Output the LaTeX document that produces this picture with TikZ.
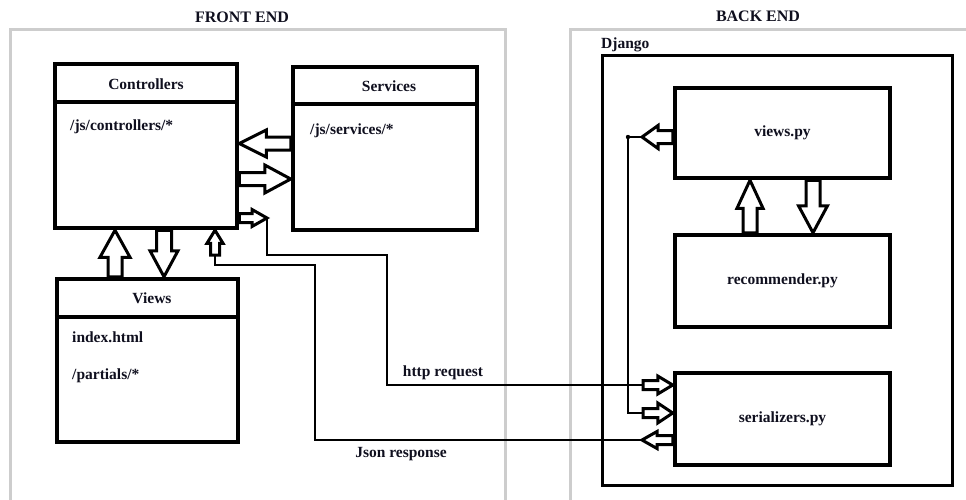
\documentclass[tikz,border=0pt]{standalone}
\usepackage{fontspec}
\setmainfont{Liberation Serif}
\usetikzlibrary{calc}
\definecolor{framegray}{RGB}{205,205,205}
\definecolor{ink}{RGB}{15,15,30}
\tikzset{
  frame/.style={draw=framegray, line width=3pt, inner sep=0pt},
  bigbox/.style={draw, line width=4.5pt, inner sep=0pt},
  djbox/.style={draw, line width=3pt, inner sep=0pt},
  divider/.style={line width=4.5pt},
  conn/.style={line width=2.5pt, line join=miter},
  barrow/.style={draw, fill=white, line width=3pt, line join=miter},
  lbl/.style={inner sep=0pt, text=ink},
  title/.style={inner sep=0pt, text=ink, font=\bfseries\fontsize{16}{19}\selectfont},
}
\newcommand\blockarrow[5]{%
  \path let \p1=(#1), \p2=(#2) in \pgfextra{%
    \pgfmathsetmacro\baang{atan2(\y2-\y1,\x2-\x1)}%
    \pgfmathsetmacro\balen{veclen(\x2-\x1,\y2-\y1)}%
    \global\let\baangg\baang \global\let\baleng\balen
    \xdef\bax{\x1}\xdef\bay{\y1}};
  \draw[barrow, shift={(\bax,\bay)}, rotate=\baangg]
    (0pt,{-#3*1pt}) -- ({(\baleng-#5)*1pt},{-#3*1pt}) -- ({(\baleng-#5)*1pt},{-#4*1pt})
    -- ({\baleng*1pt},0pt) -- ({(\baleng-#5)*1pt},{#4*1pt}) -- ({(\baleng-#5)*1pt},{#3*1pt})
    -- (0pt,{#3*1pt}) -- cycle;}
\begin{document}
\begin{tikzpicture}[x=1pt, y=-1pt, font=\bfseries\fontsize{15.5}{18}\selectfont]
\useasboundingbox (0,0) rectangle (966,499);
\begin{scope}
\clip (0,0) rectangle (966,499);
\node[frame, minimum width=495, minimum height=491] (front) at (257.5,274.5) {};
\node[frame, minimum width=420, minimum height=491] (back) at (780,274.5) {};
\end{scope}
\node[title] (fronttitle) at (242,17) {FRONT END};
\node[title] (backtitle) at (758,16) {BACK END};

% front-end boxes
\node[bigbox, minimum width=182, minimum height=164] (ctrl) at (146,146) {};
\node[bigbox, minimum width=184, minimum height=163] (svc) at (385,148.5) {};
\node[bigbox, minimum width=181, minimum height=163] (views) at (147.5,360.5) {};
\draw[divider] (ctrl.west |- 0,102) -- (ctrl.east |- 0,102);
\draw[divider] (svc.west |- 0,104) -- (svc.east |- 0,104);
\draw[divider] (views.west |- 0,317) -- (views.east |- 0,317);
\node[lbl] (ctrltitle) at (146,84) {Controllers};
\node[lbl] (svctitle) at (389,86) {Services};
\node[lbl] (viewstitle) at (152,298) {Views};
\node[lbl, anchor=west] (ctrlpath) at (70,127) {/js/controllers/*};
\node[lbl, anchor=west] (svcpath) at (310,131) {/js/services/*};
\node[lbl, anchor=west] (idx) at (72,337) {index.html};
\node[lbl, anchor=west] (partials) at (72,376) {/partials/*};

% back-end
\node[djbox, minimum width=350, minimum height=430] (django) at (777,270) {};
\node[lbl, anchor=south west, inner sep=0pt] (djlabel) at (601,52) {Django};
\node[bigbox, minimum width=215, minimum height=90, lbl, draw=black] (vpy) at (782.5,133) {views.py};
\node[bigbox, minimum width=215, minimum height=92, lbl, draw=black] (rpy) at (782.5,281) {recommender.py};
\node[bigbox, minimum width=215, minimum height=92, lbl, draw=black] (spy) at (782.5,419) {serializers.py};

% coordinates
\coordinate (httptip) at (267,218);
\coordinate (httpin) at (643,385);
\coordinate (midin) at (643,413);
\coordinate (jsontip) at (642,440);
\coordinate (jsonup) at (215,255);
\coordinate (vtip) at (642,137);
\coordinate (dot) at (628,137);

% block arrows front end
\blockarrow{svc.west |- 0,143.5}{ctrl.east |- 0,143.5}{6.5}{13.5}{27}
\blockarrow{ctrl.east |- 0,179}{svc.west |- 0,179}{6.5}{14}{26}
\blockarrow{ctrl.east |- httptip}{httptip}{4.5}{8.5}{15}
\blockarrow{views.north -| 115,0}{ctrl.south -| 115,0}{7}{15}{27}
\blockarrow{ctrl.south -| 164,0}{views.north -| 164,0}{7.5}{14}{26}
\blockarrow{jsonup}{ctrl.south -| jsonup}{4.5}{8}{13}

% block arrows back end
\blockarrow{vpy.west |- vtip}{vtip}{6.5}{11.5}{16}
\blockarrow{rpy.north -| 750,0}{vpy.south -| 750,0}{7}{13}{28}
\blockarrow{vpy.south -| 813,0}{rpy.north -| 813,0}{7}{14.5}{27}
\blockarrow{httpin}{spy.west |- httpin}{4.5}{9}{15}
\blockarrow{midin}{spy.west |- midin}{4.5}{10}{15}
\blockarrow{spy.west |- jsontip}{jsontip}{4.5}{8.5}{15}

% connectors
\draw[conn] (httptip) |- (387,255) |- (httpin);
\draw[conn] (jsontip) -| (315,265) -| (jsonup);
\draw[conn] (vtip) -- (dot) |- (midin);
\fill (dot) circle (2.2);

\node[lbl] (httplbl) at (443,373) {http request};
\node[lbl] (jsonlbl) at (401,454) {Json response};
\end{tikzpicture}
\end{document}
